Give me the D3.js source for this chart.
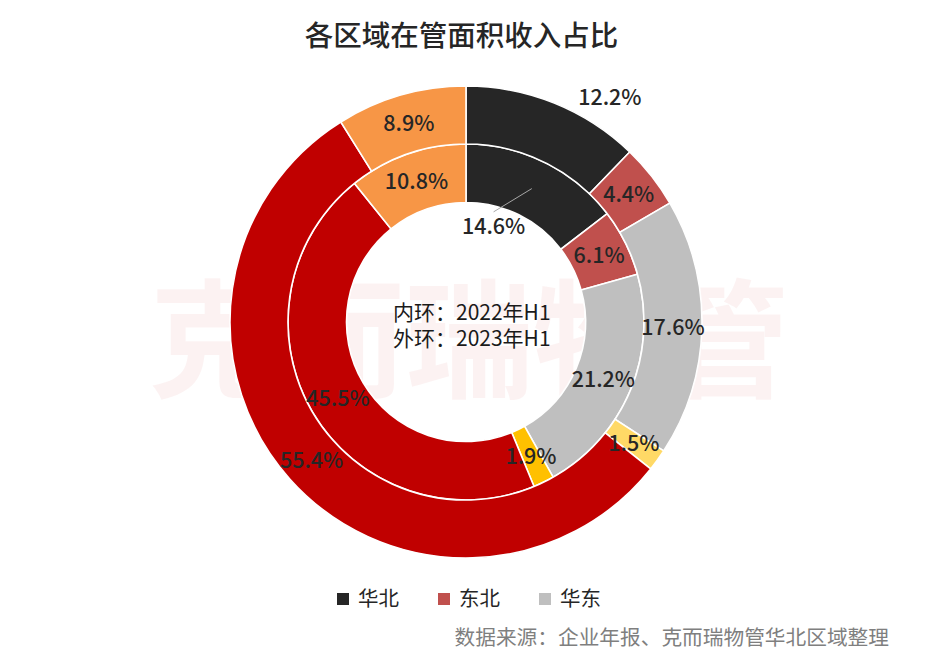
<!DOCTYPE html>
<html>
<head>
<meta charset="utf-8">
<script src="https://cdn.jsdelivr.net/npm/d3@7"></script>
<style>
  html, body { margin: 0; padding: 0; background: #fff; }
  svg { display: block; }
  text { font-family: "Noto Sans CJK SC", "Noto Sans", sans-serif; }
</style>
</head>
<body>
<svg id="chart" width="933" height="663"></svg>
<script>
// ---- data ----
const categories = ["华北", "东北", "华东", "华中", "华南", "西部"];
const legendCategories = ["华北", "东北", "华东"];
const inner2022H1 = [14.6, 6.1, 21.2, 1.9, 45.5, 10.8];
const outer2023H1 = [12.2, 4.4, 17.6, 1.5, 55.4, 8.9];
const innerColors = ["#262626", "#C0504D", "#BFBFBF", "#FFC000", "#C00000", "#F79646"];
const outerColors = ["#262626", "#C0504D", "#BFBFBF", "#FFD966", "#C00000", "#F79646"];
const titleText = "各区域在管面积收入占比";
const centerLines = ["内环：2022年H1", "外环：2023年H1"];
const sourceText = "数据来源：企业年报、克而瑞物管华北区域整理";
const watermarkText = "克而瑞物管";

// ---- layout ----
const svg = d3.select("#chart");
const cx = 466, cy = 322;
const rHole = 119.5, rMid = 178, rOuter = 236;

// watermark
svg.append("text")
  .attr("x", 469).attr("y", 343)
  .attr("dy", "0.35em")
  .attr("text-anchor", "middle")
  .attr("font-size", 128)
  .attr("font-weight", "bold")
  .attr("fill", "#C00000")
  .attr("fill-opacity", 0.05)
  .text(watermarkText);

// title
svg.append("text")
  .attr("x", 461.5).attr("y", 46)
  .attr("text-anchor", "middle")
  .attr("font-size", 28.5)
  .attr("font-weight", 500)
  .attr("fill", "#262626")
  .text(titleText);

const g = svg.append("g").attr("transform", `translate(${cx},${cy})`);

const pie = d3.pie().sort(null).value(d => d);

function drawRing(values, colors, r0, r1, cls) {
  const arcs = pie(values);
  const arc = d3.arc().innerRadius(r0).outerRadius(r1);
  g.selectAll("path." + cls)
    .data(arcs)
    .join("path")
    .attr("class", cls)
    .attr("d", arc)
    .attr("fill", (d, i) => colors[i])
    .attr("stroke", "#fff")
    .attr("stroke-width", 1.6);
  return { arcs, arc };
}

const inner = drawRing(inner2022H1, innerColors, rHole, rMid, "inner");
const outer = drawRing(outer2023H1, outerColors, rMid, rOuter, "outer");

// label overrides (polar: radius, angle in degrees clockwise from top)
const innerOverride = { 0: { r: 100, a: 16 } };
const outerOverride = { 0: { r: 267, a: 32.6 } };

function polar(r, aDeg) {
  const a = aDeg * Math.PI / 180;
  return [r * Math.sin(a), -r * Math.cos(a)];
}

function drawLabels(ring, override, leader) {
  ring.arcs.forEach((d, i) => {
    const c = ring.arc.centroid(d);
    let p = c;
    if (override[i]) {
      p = polar(override[i].r, override[i].a);
      if (leader) {
        g.append("line")
          .attr("x1", c[0]).attr("y1", c[1])
          .attr("x2", p[0]).attr("y2", p[1] - 14)
          .attr("stroke", "#A6A6A6")
          .attr("stroke-width", 1);
      }
    }
    g.append("text")
      .attr("x", p[0]).attr("y", p[1])
      .attr("dy", "0.36em")
      .attr("text-anchor", "middle")
      .attr("font-size", 21.5)
      .attr("font-weight", 500)
      .attr("fill", "#262626")
      .text(d.data.toFixed(1) + "%");
  });
}
drawLabels(inner, innerOverride, true);
drawLabels(outer, outerOverride, false);

// center text
centerLines.forEach((t, i) => {
  svg.append("text")
    .attr("x", 393).attr("y", 320 + i * 26)
    .attr("text-anchor", "start")
    .attr("font-size", 21)
    .attr("fill", "#1a1a1a")
    .text(t);
});

// legend
const legendX = [337, 438, 539];
legendCategories.forEach((name, i) => {
  const idx = categories.indexOf(name);
  svg.append("rect")
    .attr("x", legendX[i]).attr("y", 593)
    .attr("width", 12).attr("height", 12)
    .attr("fill", innerColors[idx]);
  svg.append("text")
    .attr("x", legendX[i] + 21).attr("y", 599)
    .attr("dy", "0.36em")
    .attr("font-size", 20.5)
    .attr("fill", "#262626")
    .text(name);
});

// source
svg.append("text")
  .attr("x", 889).attr("y", 645)
  .attr("text-anchor", "end")
  .attr("font-size", 20.7)
  .attr("fill", "#7F7F7F")
  .text(sourceText);
</script>
</body>
</html>
